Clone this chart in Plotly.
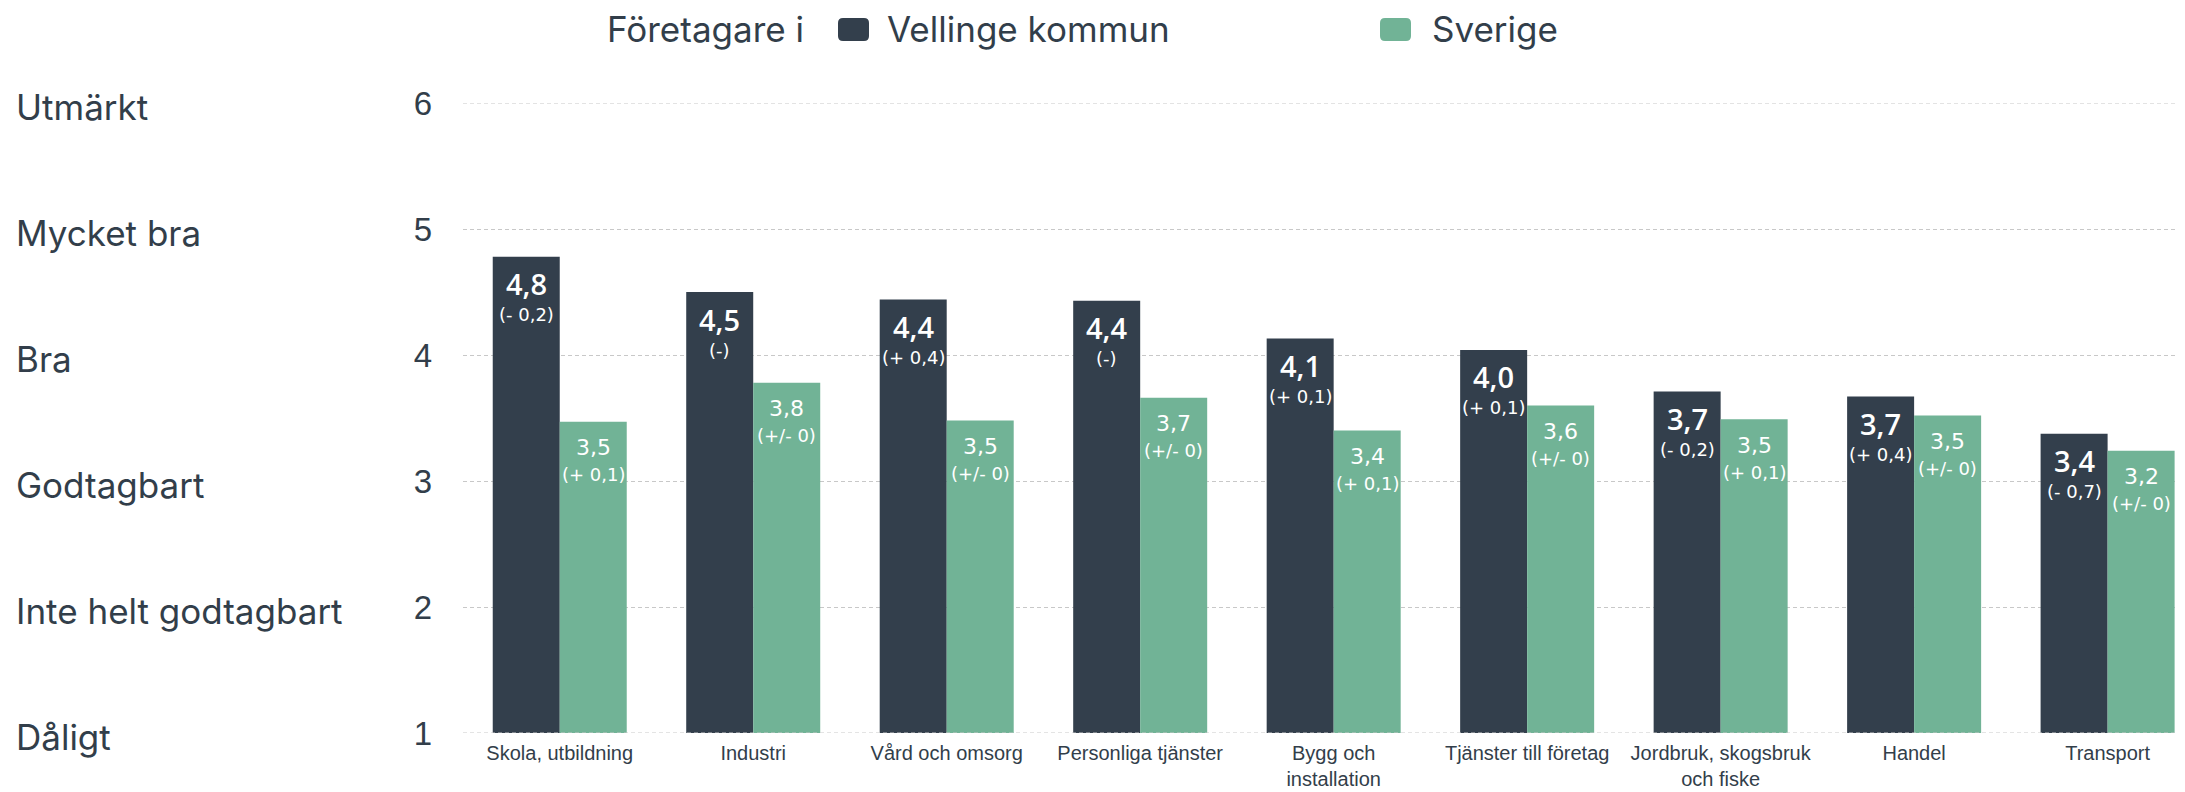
import plotly.graph_objects as go

# ---------------- data ----------------
categories = ["Skola, utbildning", "Industri", "Vård och omsorg", "Personliga tjänster",
              "Bygg och<br>installation", "Tjänster till företag",
              "Jordbruk, skogsbruk<br>och fiske", "Handel", "Transport"]
vellinge = [4.78, 4.50, 4.44, 4.43, 4.13, 4.04, 3.71, 3.67, 3.375]
sverige = [3.47, 3.78, 3.48, 3.66, 3.40, 3.60, 3.49, 3.52, 3.24]
vellinge_change = ["(- 0,2)", "(-)", "(+ 0,4)", "(-)", "(+ 0,1)", "(+ 0,1)", "(- 0,2)", "(+ 0,4)", "(- 0,7)"]
sverige_change = ["(+ 0,1)", "(+/- 0)", "(+/- 0)", "(+/- 0)", "(+ 0,1)", "(+/- 0)", "(+ 0,1)", "(+/- 0)", "(+/- 0)"]
y_ticks = [1, 2, 3, 4, 5, 6]
y_words = ["Dåligt", "Inte helt godtagbart", "Godtagbart", "Bra", "Mycket bra", "Utmärkt"]
series_names = ["Vellinge kommun", "Sverige"]
legend_title = "Företagare i"

# ---------------- style ----------------
OFF = 8                      # page body margin of the html page
W, H = 2185 - OFF, 792 - OFF
ML, MR, MT, MB = 463 - OFF, 0, 103 - OFF, 59
DARK = "#333F4C"
GREEN = "#71B396"
TEXT = "#323E4A"
GRID = "#C8C8C8"
BARGAP = 0.3074
XR = [-0.5, 8.4]
YR = [1, 6]
PW = W - ML - MR
PH = H - MT - MB


def px_x(px):  # page pixel -> paper x
    return (px - OFF - ML) / PW


def px_y(py):  # page pixel -> paper y
    return (H - MB - (py - OFF)) / PH


def fmt(v):
    return f"{v:.1f}".replace(".", ",")


LBL_FONT = "DejaVu Sans"

fig = go.Figure()
fig.add_trace(go.Bar(x=list(range(len(categories))), y=vellinge, name=series_names[0],
                     marker=dict(color=DARK, line=dict(width=0)), showlegend=False))
fig.add_trace(go.Bar(x=list(range(len(categories))), y=sverige, name=series_names[1],
                     marker=dict(color=GREEN, line=dict(width=0)), showlegend=False))

ann = []
half = (1 - BARGAP) / 4  # offset of each bar center from category center
for i in range(len(categories)):
    ann.append(dict(x=i - half, y=vellinge[i], xref="x", yref="y", text=fmt(vellinge[i]),
                    showarrow=False, yanchor="middle", yshift=-27,
                    font=dict(family="Open Sans", size=29, color="white", weight=600)))
    ann.append(dict(x=i - half, y=vellinge[i], xref="x", yref="y", text=vellinge_change[i],
                    showarrow=False, yanchor="middle", yshift=-58,
                    font=dict(family=LBL_FONT, size=18, color="white")))
    ann.append(dict(x=i + half, y=sverige[i], xref="x", yref="y", text=fmt(sverige[i]),
                    showarrow=False, yanchor="middle", yshift=-26,
                    font=dict(family=LBL_FONT, size=22, color="white")))
    ann.append(dict(x=i + half, y=sverige[i], xref="x", yref="y", text=sverige_change[i],
                    showarrow=False, yanchor="middle", yshift=-53,
                    font=dict(family=LBL_FONT, size=18, color="white")))

# left words
for v, w in zip(y_ticks, y_words):
    ann.append(dict(x=px_x(14), y=v, xref="paper", yref="y", text=w, showarrow=False,
                    xanchor="left", yanchor="middle", yshift=-4,
                    font=dict(family="Inter", size=35, color=TEXT)))

# manual legend
LEG_Y = px_y(29.5)
ann.append(dict(x=px_x(605), y=LEG_Y, xref="paper", yref="paper", text=legend_title,
                showarrow=False, xanchor="left", yanchor="middle",
                font=dict(family="Inter", size=35, color=TEXT)))
sw_centers = [853.5, 1395.5]
txt_left = [885, 1430]
colors = [DARK, GREEN]
shapes = []
r, w2, h2 = 5, 15.5, 11.5
path = (f"M {-w2 + r},{-h2} H {w2 - r} Q {w2},{-h2} {w2},{-h2 + r} V {h2 - r} "
        f"Q {w2},{h2} {w2 - r},{h2} H {-w2 + r} Q {-w2},{h2} {-w2},{h2 - r} "
        f"V {-h2 + r} Q {-w2},{-h2} {-w2 + r},{-h2} Z")
for c, sx, tx, nm in zip(colors, sw_centers, txt_left, series_names):
    shapes.append(dict(type="path", xref="paper", yref="paper", xsizemode="pixel",
                       ysizemode="pixel", xanchor=px_x(sx), yanchor=LEG_Y, path=path,
                       fillcolor=c, line=dict(width=0)))
    ann.append(dict(x=px_x(tx), y=LEG_Y, xref="paper", yref="paper", text=nm,
                    showarrow=False, xanchor="left", yanchor="middle",
                    font=dict(family="Inter", size=35, color=TEXT)))

# grid lines at the range edges (plotly skips them); bottom one above the bars
shapes.append(dict(type="line", xref="paper", yref="y", x0=0, x1=1, y0=YR[0], y1=YR[0],
                   line=dict(color=GRID, width=1, dash="4px,3px"), layer="above"))
shapes.append(dict(type="line", xref="paper", yref="y", x0=0, x1=1, y0=YR[1], y1=YR[1],
                   line=dict(color=GRID, width=1, dash="4px,3px"), layer="below"))

fig.update_layout(
    width=W, height=H,
    margin=dict(l=ML, r=MR, t=MT, b=MB),
    paper_bgcolor="white", plot_bgcolor="white",
    barmode="group", bargap=BARGAP, bargroupgap=0,
    annotations=ann, shapes=shapes,
    xaxis=dict(tickmode="array", tickvals=list(range(len(categories))), ticktext=categories,
               range=XR, showgrid=False, zeroline=False, showline=False, ticks="",
               ticklabelstandoff=6, automargin=False,
               tickfont=dict(family="Liberation Sans, Arial", size=20, color=TEXT)),
    yaxis=dict(range=YR, tickvals=y_ticks, showgrid=True, gridcolor=GRID,
               griddash="4px,3px", gridwidth=1, zeroline=False, showline=False,
               ticks="", ticklabelstandoff=30, automargin=False,
               tickfont=dict(family="Liberation Sans, Arial", size=33, color=TEXT)),
)

fig.write_html("out.html")
